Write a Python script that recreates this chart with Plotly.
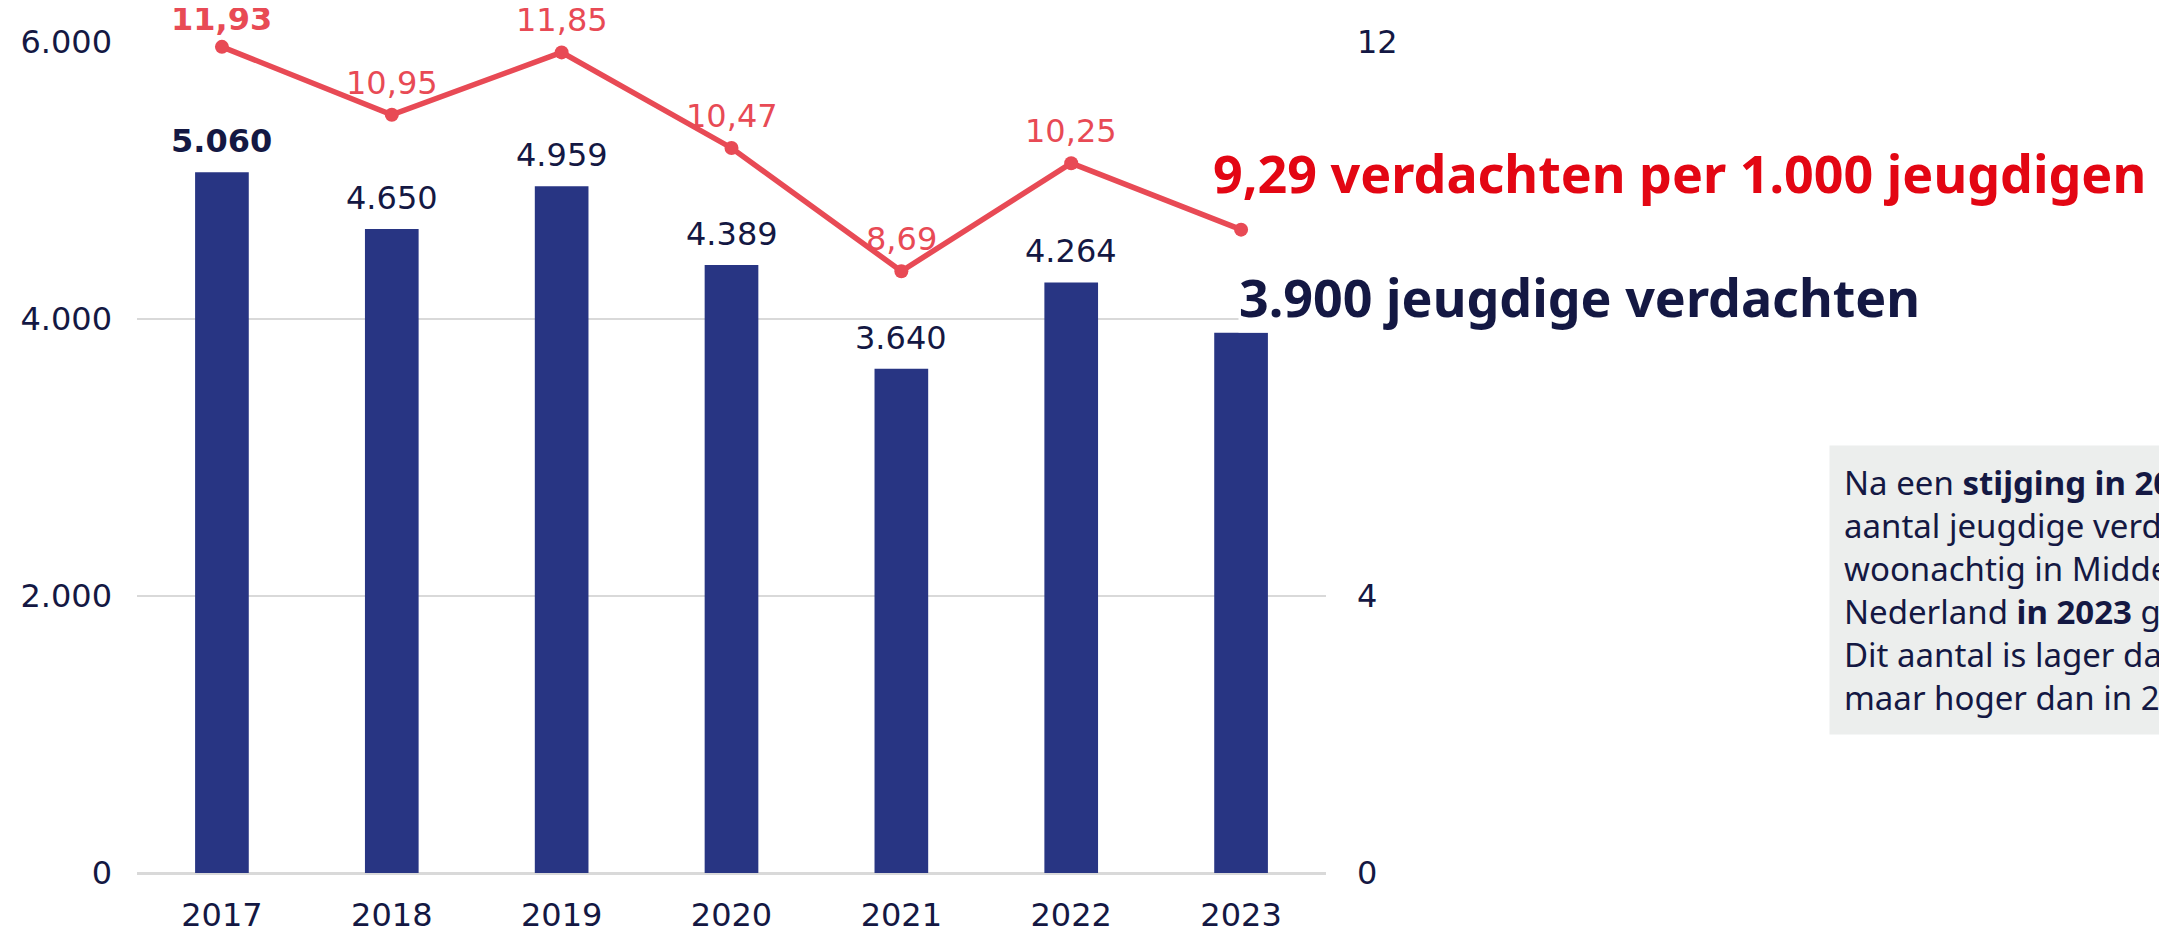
import plotly.graph_objects as go

# ---- data ----
years = [2017, 2018, 2019, 2020, 2021, 2022, 2023]
suspects = [5060, 4650, 4959, 4389, 3640, 4264, 3900]
rate_per_1000 = [11.93, 10.95, 11.85, 10.47, 8.69, 10.25, 9.29]
left_ticks = [0, 2000, 4000, 6000]
right_ticks = [0, 4, 8, 12]

NAVY = "#141843"
BAR = "#283583"
LINE = "#E84A55"
RED = "#E30613"
NUMFONT = "DejaVu Sans"
TXTFONT = "Noto Sans"
NUMSIZE = 32

# page body has an 8px margin; plot area in page pixels: x 137..1326, y 42..873
OFF = 8
PL, PR, PT, PB = 137 - OFF, 1326 - OFF, 42 - OFF, 873 - OFF


def nl_int(v):
    return f"{v:,}".replace(",", ".")


def nl_dec(v):
    return f"{v:.2f}".replace(".", ",")


fig = go.Figure()
fig.add_trace(go.Bar(x=years, y=suspects, marker=dict(color=BAR, line=dict(width=0)),
                     width=0.316, yaxis="y", hoverinfo="skip"))
fig.add_trace(go.Scatter(x=years, y=rate_per_1000, yaxis="y2", mode="lines+markers",
                         line=dict(color=LINE, width=5.5), marker=dict(color=LINE, size=14),
                         cliponaxis=False, hoverinfo="skip"))

annotations = []
for i, yr in enumerate(years[:-1]):
    bold = i == 0
    annotations.append(dict(
        x=yr, y=suspects[i], xref="x", yref="y",
        text=(f"<b>{nl_int(suspects[i])}</b>" if bold else nl_int(suspects[i])),
        showarrow=False, yanchor="middle", yshift=31,
        font=dict(family=NUMFONT, size=NUMSIZE, color=NAVY)))
    annotations.append(dict(
        x=yr, y=rate_per_1000[i], xref="x", yref="y2",
        text=(f"<b>{nl_dec(rate_per_1000[i])}</b>" if bold else nl_dec(rate_per_1000[i])),
        showarrow=False, yanchor="middle", yshift=(28 if bold else 32),
        font=dict(family=NUMFONT, size=NUMSIZE, color=LINE)))

annotations.append(dict(
    x=0.903, y=0.843, xref="paper", yref="paper", xanchor="left", yanchor="middle",
    text=f"<b>{nl_dec(rate_per_1000[-1])} verdachten per 1.000 jeugdigen</b>",
    showarrow=False, font=dict(family=TXTFONT, size=52, color=RED)))
annotations.append(dict(
    x=0.926, y=(873 - 296) / (873 - 42), xref="paper", yref="paper",
    xanchor="left", yanchor="middle",
    text=f"<b>{nl_int(suspects[-1])} jeugdige verdachten</b>", bgcolor="white", borderpad=0,
    showarrow=False, font=dict(family=TXTFONT, size=52, color=NAVY)))

box_text = ("Na een <b>stijging in 2022</b> is het<br>"
            "aantal jeugdige verdachten<br>"
            "woonachtig in Midden-<br>"
            "Nederland <b>in 2023</b> gedaald.<br>"
            "Dit aantal is lager dan in 2022,<br>"
            "maar hoger dan in 2021.")
annotations.append(dict(
    x=(1829 - 137) / (1326 - 137), y=(873 - 445) / (873 - 42), xref="paper", yref="paper",
    xanchor="left", yanchor="top",
    text=box_text, align="left", showarrow=False, bgcolor="#ECEEED", borderpad=14,
    font=dict(family=TXTFONT, size=33, color=NAVY)))

fig.update_layout(
    width=2167, height=929,
    margin=dict(l=PL, r=2167 - PR, t=PT, b=929 - PB, autoexpand=False),
    plot_bgcolor="white", paper_bgcolor="white",
    showlegend=False,
    font=dict(family=NUMFONT, color=NAVY, size=NUMSIZE),
    xaxis=dict(range=[2016.5, 2023.5], tickvals=years, ticktext=[str(y) for y in years],
               showgrid=False, showline=False, zeroline=False,
               tickfont=dict(family=NUMFONT, size=NUMSIZE, color=NAVY), ticks="",
               ticklabelstandoff=20),
    yaxis=dict(range=[0, 6000], tickvals=left_ticks, ticktext=[nl_int(v) for v in left_ticks],
               showgrid=True, gridcolor="#D9D9D9", gridwidth=2, zeroline=True,
               zerolinecolor="#D9D9D9", zerolinewidth=3, showline=False, ticks="",
               tickfont=dict(family=NUMFONT, size=NUMSIZE, color=NAVY), ticklabelstandoff=24),
    yaxis2=dict(range=[0, 12], overlaying="y", side="right", tickvals=right_ticks,
                ticktext=[str(v) for v in right_ticks], showgrid=False, zeroline=False,
                showline=False, ticks="", tickfont=dict(family=NUMFONT, size=NUMSIZE, color=NAVY),
                ticklabelstandoff=30),
    annotations=annotations,
)

fig.write_html("out.html")
